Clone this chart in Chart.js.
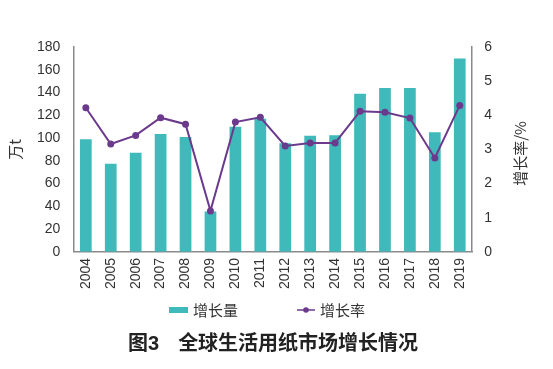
<!DOCTYPE html>
<html>
<head>
<meta charset="utf-8">
<script src="https://cdn.jsdelivr.net/npm/chart.js@4"></script>
<style>
  html, body { margin: 0; padding: 0; background: #fff; }
  #wrap { width: 553px; height: 369px; position: relative; overflow: hidden; }
  #chart-box { position: absolute; left: 0; top: 0; width: 553px; height: 369px; }
  .legend { position: absolute; left: 169px; top: 299px; display: flex; align-items: center;
    font: 15px "Liberation Sans", "Noto Sans CJK SC", sans-serif; color: #333; }
  .legend .item { display: flex; align-items: center; }
  .legend .item + .item { margin-left: 59px; }
  .legend canvas { margin-right: 5px; }
  .caption { position: absolute; left: 128px; top: 327px; white-space: nowrap;
    font: bold 20px "Liberation Sans", "Noto Sans CJK SC", sans-serif; color: #222; }
  .caption span + span { margin-left: 19px; }
</style>
</head>
<body>
<div id="wrap">
  <div id="chart-box"><canvas id="chart"></canvas></div>
  <div class="legend" id="legend"></div>
  <div class="caption"><span>图3</span><span>全球生活用纸市场增长情况</span></div>
</div>
<script>
// data
const years = ['2004', '2005', '2006', '2007', '2008', '2009', '2010', '2011',
  '2012', '2013', '2014', '2015', '2016', '2017', '2018', '2019']
const growth_amount = [99, 77.5, 87, 103.5, 101, 35.5, 110, 117, 95.5, 102, 102.5, 139, 144, 144, 105, 170]
const growth_rate = [4.22, 3.16, 3.41, 3.93, 3.74, 1.2, 3.8, 3.94, 3.1, 3.19, 3.19, 4.12, 4.09, 3.92, 2.75, 4.29]
const left_ticks = [0, 20, 40, 60, 80, 100, 120, 140, 160, 180]
const right_ticks = [0, 1, 2, 3, 4, 5, 6]
const series_names = ['增长量', '增长率']
const right_title = '增长率/%'

const teal = '#3fb9b9'
const purple = '#6b3a8c'
const font_family = '"Liberation Sans", Arial, "Noto Sans CJK SC", sans-serif'
const tick_font = { family: font_family, size: 14 }
const title_font = { family: '"Noto Sans CJK SC", sans-serif', size: 15 }

// legend below the chart
const legend_elem = document.getElementById('legend')
series_names.forEach((name, i) => {
  const item = document.createElement('div')
  item.className = 'item'
  const sw = document.createElement('canvas')
  const ctx = sw.getContext('2d')
  if (i === 0) {
    sw.width = 19
    sw.height = 6
    ctx.fillStyle = teal
    ctx.fillRect(0, 0, 19, 6)
  } else {
    sw.width = 18
    sw.height = 8
    ctx.strokeStyle = purple
    ctx.lineWidth = 1.5
    ctx.beginPath()
    ctx.moveTo(0, 4)
    ctx.lineTo(18, 4)
    ctx.stroke()
    ctx.fillStyle = purple
    ctx.beginPath()
    ctx.arc(9, 4, 2.8, 0, Math.PI * 2)
    ctx.fill()
  }
  const label = document.createElement('span')
  label.textContent = name
  item.appendChild(sw)
  item.appendChild(label)
  legend_elem.appendChild(item)
})

// right axis title reads bottom-to-top like the left one, chart.js would turn it the other way
const right_title_plugin = {
  id: 'right_title',
  afterDraw: chart => {
    const scale = chart.scales.y1
    const opts = scale.options.title
    const ctx = chart.ctx
    const x = scale.right - opts.padding.top - title_font.size * 1.2 / 2
    const y = (scale.top + scale.bottom) / 2 + 4
    ctx.save()
    ctx.translate(x, y)
    ctx.rotate(-Math.PI / 2)
    ctx.font = `${title_font.size}px ${title_font.family}`
    ctx.fillStyle = '#333'
    ctx.textAlign = 'center'
    ctx.textBaseline = 'middle'
    ctx.fillText(right_title, 0, 0)
    ctx.restore()
  }
}

new Chart(document.getElementById('chart'), {
  data: {
    labels: years,
    datasets: [
      {
        type: 'line',
        label: series_names[1],
        data: growth_rate,
        yAxisID: 'y1',
        borderColor: purple,
        backgroundColor: purple,
        borderWidth: 2,
        pointRadius: 3.5,
        pointBackgroundColor: purple,
        pointBorderWidth: 0,
        tension: 0,
        order: 1,
      },
      {
        type: 'bar',
        label: series_names[0],
        data: growth_amount,
        yAxisID: 'y',
        backgroundColor: teal,
        barPercentage: 0.47,
        categoryPercentage: 1,
        order: 2,
      },
    ]
  },
  options: {
    responsive: true,
    maintainAspectRatio: false,
    animation: false,
    layout: { padding: { top: 47, left: 2, right: 20, bottom: 74 } },
    scales: {
      x: {
        grid: { display: false, drawTicks: false },
        border: { display: true, color: '#8a8a8a', width: 1.5 },
        ticks: { color: '#333', font: tick_font, maxRotation: 90, minRotation: 90, padding: 6 },
      },
      y: {
        position: 'left',
        min: 0, max: 180,
        afterBuildTicks: axis => { axis.ticks = left_ticks.map(v => ({ value: v })) },
        grid: { display: false, drawTicks: false },
        border: { display: true, color: '#8a8a8a', width: 1.5 },
        ticks: { color: '#333', font: tick_font, padding: 13 },
        title: { display: true, text: '万t', color: '#333', font: title_font, padding: { top: 4, bottom: 0 } },
      },
      y1: {
        position: 'right',
        min: 0, max: 6,
        afterBuildTicks: axis => { axis.ticks = right_ticks.map(v => ({ value: v })) },
        grid: { display: false, drawTicks: false },
        border: { display: true, color: '#8a8a8a', width: 1.5 },
        ticks: { color: '#333', font: tick_font, padding: 12 },
        // keeps the room, the plugin draws the text
        title: { display: true, text: right_title, color: 'rgba(0,0,0,0)', font: title_font, padding: { top: 4, bottom: 7 } },
      },
    },
    plugins: {
      tooltip: { enabled: false },
      legend: { display: false },
    },
  },
  plugins: [right_title_plugin],
})
</script>
</body>
</html>
